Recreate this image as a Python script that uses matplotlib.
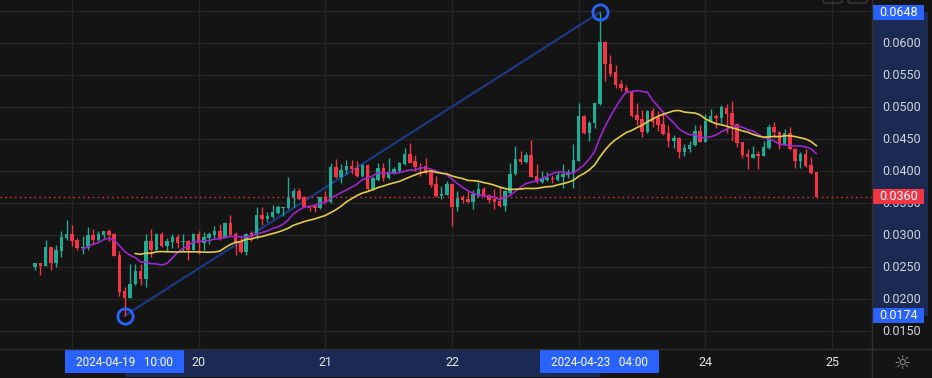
import numpy as np
import pandas as pd
import matplotlib
matplotlib.use("Agg")
import matplotlib.pyplot as plt
import matplotlib.dates as mdates
from matplotlib.patches import Rectangle, FancyBboxPatch

plt.rcParams['font.family'] = ['Roboto', 'DejaVu Sans']

# hourly candles, 2024-04-18 17:00 -> 2024-04-24 21:00
start = '2024-04-18 17:00'

opens = [0.0250, 0.0256, 0.0252, 0.0281, 0.0257, 0.0275, 0.0296, 0.0302, 0.0292, 0.0280,
         0.0280, 0.0300, 0.0292, 0.0300, 0.0306, 0.0302, 0.0268, 0.0212, 0.0202, 0.0223,
         0.0244, 0.0231, 0.0291, 0.0277, 0.0302, 0.0283, 0.0289, 0.0297, 0.0289, 0.0290,
         0.0277, 0.0302, 0.0287, 0.0295, 0.0300, 0.0307, 0.0297, 0.0319, 0.0302, 0.0289,
         0.0273, 0.0303, 0.0300, 0.0331, 0.0325, 0.0328, 0.0334, 0.0342, 0.0342, 0.0358,
         0.0369, 0.0360, 0.0346, 0.0345, 0.0342, 0.0359, 0.0351, 0.0407, 0.0390, 0.0401,
         0.0408, 0.0405, 0.0392, 0.0409, 0.0372, 0.0386, 0.0404, 0.0389, 0.0396, 0.0400,
         0.0411, 0.0427, 0.0415, 0.0407, 0.0408, 0.0399, 0.0379, 0.0361, 0.0363, 0.0380,
         0.0343, 0.0360, 0.0356, 0.0352, 0.0361, 0.0372, 0.0363, 0.0356, 0.0353, 0.0345,
         0.0365, 0.0395, 0.0419, 0.0414, 0.0425, 0.0392, 0.0383, 0.0386, 0.0389, 0.0386,
         0.0391, 0.0393, 0.0397, 0.0416, 0.0486, 0.0459, 0.0475, 0.0504, 0.0602, 0.0567,
         0.0554, 0.0536, 0.0530, 0.0525, 0.0487, 0.0481, 0.0461, 0.0494, 0.0485, 0.0473,
         0.0460, 0.0447, 0.0452, 0.0429, 0.0435, 0.0440, 0.0463, 0.0446, 0.0477, 0.0486,
         0.0483, 0.0499, 0.0490, 0.0474, 0.0445, 0.0426, 0.0421, 0.0426, 0.0424, 0.0436,
         0.0468, 0.0461, 0.0442, 0.0460, 0.0434, 0.0415, 0.0426, 0.0409, 0.0398]

highs = [0.0257, 0.0256, 0.0292, 0.0281, 0.0284, 0.0306, 0.0323, 0.0316, 0.0296, 0.0298,
         0.0312, 0.0310, 0.0306, 0.0307, 0.0309, 0.0303, 0.0275, 0.0219, 0.0254, 0.0254,
         0.0254, 0.0302, 0.0310, 0.0303, 0.0305, 0.0295, 0.0302, 0.0301, 0.0302, 0.0292,
         0.0303, 0.0306, 0.0305, 0.0305, 0.0314, 0.0317, 0.0320, 0.0331, 0.0305, 0.0297,
         0.0303, 0.0306, 0.0343, 0.0343, 0.0336, 0.0347, 0.0347, 0.0344, 0.0391, 0.0373,
         0.0374, 0.0361, 0.0346, 0.0348, 0.0360, 0.0369, 0.0413, 0.0419, 0.0411, 0.0417,
         0.0417, 0.0416, 0.0411, 0.0411, 0.0390, 0.0413, 0.0412, 0.0421, 0.0406, 0.0414,
         0.0436, 0.0444, 0.0425, 0.0412, 0.0420, 0.0400, 0.0392, 0.0377, 0.0384, 0.0381,
         0.0368, 0.0362, 0.0369, 0.0370, 0.0383, 0.0375, 0.0364, 0.0372, 0.0375, 0.0372,
         0.0413, 0.0439, 0.0431, 0.0429, 0.0448, 0.0411, 0.0400, 0.0399, 0.0394, 0.0399,
         0.0411, 0.0403, 0.0442, 0.0506, 0.0487, 0.0478, 0.0508, 0.0648, 0.0603, 0.0581,
         0.0566, 0.0542, 0.0534, 0.0526, 0.0506, 0.0495, 0.0495, 0.0498, 0.0494, 0.0493,
         0.0472, 0.0457, 0.0453, 0.0442, 0.0447, 0.0472, 0.0472, 0.0489, 0.0497, 0.0489,
         0.0503, 0.0504, 0.0509, 0.0475, 0.0446, 0.0435, 0.0439, 0.0431, 0.0447, 0.0474,
         0.0476, 0.0462, 0.0466, 0.0469, 0.0436, 0.0430, 0.0434, 0.0422, 0.0398]

lows = [0.0245, 0.0238, 0.0252, 0.0245, 0.0250, 0.0265, 0.0292, 0.0283, 0.0277, 0.0270,
        0.0277, 0.0285, 0.0291, 0.0296, 0.0290, 0.0267, 0.0204, 0.0174, 0.0201, 0.0222,
        0.0222, 0.0218, 0.0266, 0.0276, 0.0282, 0.0275, 0.0280, 0.0279, 0.0275, 0.0261,
        0.0276, 0.0271, 0.0277, 0.0286, 0.0294, 0.0292, 0.0296, 0.0299, 0.0268, 0.0272,
        0.0268, 0.0290, 0.0294, 0.0316, 0.0321, 0.0327, 0.0333, 0.0329, 0.0341, 0.0344,
        0.0355, 0.0343, 0.0337, 0.0336, 0.0341, 0.0350, 0.0350, 0.0389, 0.0381, 0.0395,
        0.0396, 0.0391, 0.0391, 0.0369, 0.0371, 0.0385, 0.0384, 0.0388, 0.0395, 0.0399,
        0.0410, 0.0412, 0.0400, 0.0392, 0.0396, 0.0375, 0.0360, 0.0356, 0.0362, 0.0314,
        0.0338, 0.0350, 0.0350, 0.0341, 0.0360, 0.0360, 0.0350, 0.0340, 0.0344, 0.0338,
        0.0364, 0.0394, 0.0411, 0.0412, 0.0390, 0.0382, 0.0382, 0.0384, 0.0381, 0.0385,
        0.0373, 0.0389, 0.0373, 0.0415, 0.0458, 0.0447, 0.0467, 0.0503, 0.0540, 0.0548,
        0.0529, 0.0525, 0.0522, 0.0485, 0.0472, 0.0453, 0.0460, 0.0469, 0.0463, 0.0457,
        0.0438, 0.0436, 0.0421, 0.0424, 0.0429, 0.0439, 0.0445, 0.0445, 0.0476, 0.0467,
        0.0475, 0.0460, 0.0447, 0.0437, 0.0421, 0.0403, 0.0420, 0.0403, 0.0423, 0.0435,
        0.0452, 0.0435, 0.0441, 0.0433, 0.0405, 0.0404, 0.0406, 0.0395, 0.0360]

closes = [0.0256, 0.0252, 0.0281, 0.0257, 0.0277, 0.0297, 0.0302, 0.0291, 0.0280, 0.0281,
          0.0300, 0.0292, 0.0302, 0.0306, 0.0300, 0.0267, 0.0211, 0.0202, 0.0223, 0.0244,
          0.0231, 0.0291, 0.0277, 0.0302, 0.0283, 0.0291, 0.0297, 0.0287, 0.0290, 0.0277,
          0.0302, 0.0287, 0.0297, 0.0302, 0.0307, 0.0296, 0.0319, 0.0300, 0.0289, 0.0273,
          0.0302, 0.0297, 0.0331, 0.0325, 0.0330, 0.0336, 0.0343, 0.0343, 0.0359, 0.0369,
          0.0357, 0.0344, 0.0342, 0.0342, 0.0359, 0.0351, 0.0407, 0.0390, 0.0402, 0.0408,
          0.0403, 0.0392, 0.0409, 0.0372, 0.0389, 0.0404, 0.0389, 0.0398, 0.0403, 0.0413,
          0.0427, 0.0413, 0.0407, 0.0403, 0.0397, 0.0378, 0.0361, 0.0364, 0.0380, 0.0343,
          0.0358, 0.0355, 0.0352, 0.0364, 0.0372, 0.0361, 0.0355, 0.0352, 0.0345, 0.0368,
          0.0395, 0.0419, 0.0414, 0.0425, 0.0391, 0.0383, 0.0389, 0.0389, 0.0387, 0.0393,
          0.0395, 0.0399, 0.0417, 0.0486, 0.0459, 0.0475, 0.0506, 0.0602, 0.0567, 0.0552,
          0.0534, 0.0530, 0.0525, 0.0486, 0.0480, 0.0461, 0.0494, 0.0477, 0.0472, 0.0458,
          0.0447, 0.0452, 0.0429, 0.0436, 0.0441, 0.0463, 0.0446, 0.0478, 0.0486, 0.0483,
          0.0500, 0.0489, 0.0472, 0.0444, 0.0425, 0.0422, 0.0426, 0.0424, 0.0437, 0.0468,
          0.0461, 0.0442, 0.0460, 0.0434, 0.0415, 0.0426, 0.0408, 0.0397, 0.0360]

# trend line drawn between the low and the high
trend_times = ['2024-04-19 10:00', '2024-04-23 04:00']
trend_prices = [0.0174, 0.0648]
trend_labels = ['2024-04-19   10:00', '2024-04-23   04:00']

price_ticks = [0.0150, 0.0200, 0.0250, 0.0300, 0.0350, 0.0400, 0.0450, 0.0500, 0.0550, 0.0600]
day_ticks = ['2024-04-20', '2024-04-21', '2024-04-22', '2024-04-24', '2024-04-25']
day_labels = ['20', '21', '22', '24', '25']
grid_days = pd.date_range('2024-04-19', '2024-04-25', freq='D')

BG = '#141414'
GRID = '#242424'
UP = '#22ab94'
DOWN = '#f23645'
BLUE = '#2962ff'
NAVY = '#1b2a52'

times = pd.date_range(start, periods=len(closes), freq='h')
x = mdates.date2num(times)
hour = 1 / 24
o = np.array(opens)
c = np.array(closes)
up = c >= o
col = np.where(up, UP, DOWN)

W, H = 932, 378
fig = plt.figure(figsize=(W / 100, H / 100), dpi=100, facecolor=BG)
ax = fig.add_axes([0, 30 / H, 872 / W, 348 / H], facecolor=BG)
xlim = (x[0] - 6.63 * hour, x[0] + 158.55 * hour)
ylim = (0.012344, 0.06672)
ax.set_xlim(xlim)
ax.set_ylim(ylim)
for s in ax.spines.values():
    s.set_visible(False)
ax.set_xticks([])
ax.set_yticks([])

# grid
for v in price_ticks + [0.0650]:
    ax.axhline(v, color=GRID, lw=1, zorder=0)
for d in grid_days:
    ax.axvline(mdates.date2num(d), color=GRID, lw=1, zorder=0)

# trend line
tx = mdates.date2num(pd.to_datetime(trend_times))
ax.plot(tx, trend_prices, color='#1f3d8f', lw=1.6, alpha=0.9, zorder=1)

# candles
ax.vlines(x, lows, highs, colors=col, lw=1, zorder=2)
body_low = np.minimum(o, c)
body_h = np.maximum(np.abs(c - o), 0.00008)
ax.bar(x, body_h, bottom=body_low, width=0.66 * hour, color=col, lw=0, zorder=3)

# moving averages
s = pd.Series(closes)
ax.plot(x, s.rolling(10).mean(), color='#9c27d0', lw=1.2, zorder=4)
ax.plot(x, s.rolling(20).mean(), color='#e0cc4a', lw=1.2, zorder=4)

# anchors
ax.plot(tx, trend_prices, 'o', ms=11, mfc='none', mec=BLUE, mew=2, zorder=6)

# last price line
ax.axhline(closes[-1], color=DOWN, lw=1, ls=(0, (1, 2.5)), zorder=5)

# price scale
axp = fig.add_axes([872 / W, 30 / H, 60 / W, 348 / H], facecolor=BG)
axp.set_xlim(0, 60)
axp.set_ylim(ylim)
axp.axis('off')
axp.add_patch(Rectangle((0, trend_prices[0]), 56, trend_prices[1] - trend_prices[0], color=NAVY, lw=0))
for v in price_ticks:
    axp.text(10, v, f'{v:.4f}', color='#d1d4dc', fontsize=9, va='center', ha='left')
bh = 0.00242
for v, fc in [(trend_prices[1], BLUE), (trend_prices[0], BLUE), (closes[-1], DOWN)]:
    axp.add_patch(Rectangle((0, v - bh / 2), 52, bh, color=fc, lw=0, zorder=5))
    axp.text(27, v, f'{v:.4f}', color='white', fontsize=9, va='center', ha='center', zorder=6)

# time scale
axt = fig.add_axes([0, 0, 872 / W, 30 / H], facecolor=BG)
axt.set_xlim(xlim)
axt.set_ylim(30, 0)
axt.axis('off')
axt.add_patch(Rectangle((tx[0], 1), tx[1] - tx[0], 28, color=NAVY, lw=0))
for d, lab in zip(day_ticks, day_labels):
    axt.text(mdates.date2num(pd.Timestamp(d)), 14, lab, color='#e6e6e6', fontsize=9,
             ha='center', va='center')
for t, lab in zip(tx, trend_labels):
    axt.add_patch(Rectangle((t - 11.25 * hour, 1), 22.5 * hour, 24, color=BLUE, lw=0, zorder=5))
    axt.text(t, 14, lab, color='white', fontsize=8.5, ha='center', va='center', zorder=6)

# separators
fig.add_artist(plt.Line2D([872 / W, 872 / W], [0, 1], color='#2e2e2e', lw=1))
fig.add_artist(plt.Line2D([0, 1], [29 / H, 29 / H], color='#2e2e2e', lw=1))

# small top buttons and settings icon
for bx in [823, 848]:
    fig.add_artist(FancyBboxPatch((bx / W, 1 - 3 / H), 19 / W, 10 / H,
                                  boxstyle='round,pad=0,rounding_size=0.004',
                                  fc='none', ec='#3a3a3a', lw=1))
fig.text(902 / W, 1 - 363 / H, '\u263c', color='#9598a1', fontsize=14,
         ha='center', va='center', family='DejaVu Sans')

fig.savefig('out.png', dpi=100, facecolor=BG)
